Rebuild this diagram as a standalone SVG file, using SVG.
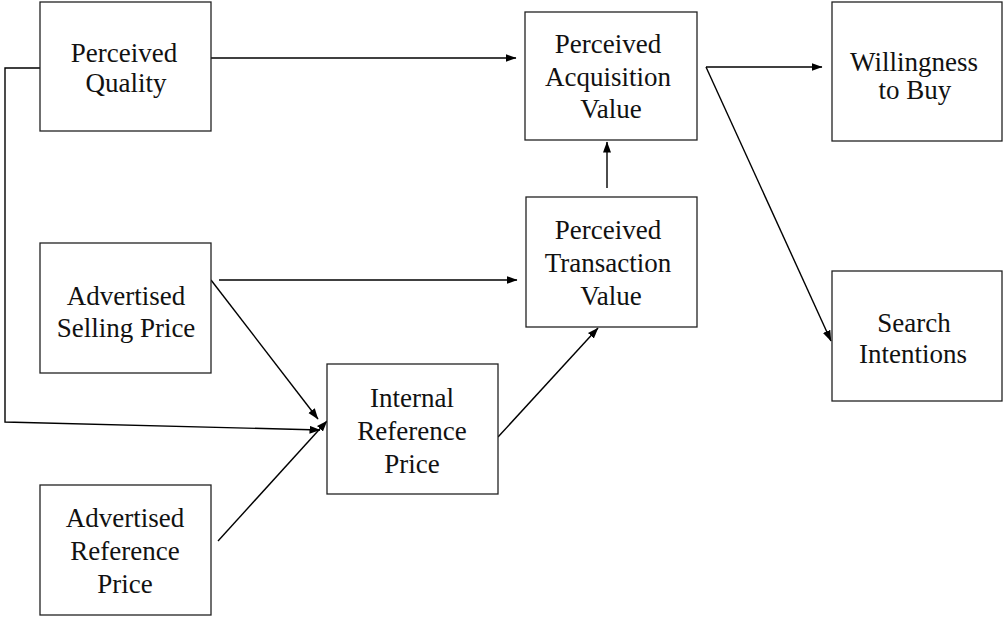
<svg xmlns="http://www.w3.org/2000/svg" width="1003" height="619" viewBox="0 0 1003 619">
<style>
.box{fill:#fff;stroke:#222;stroke-width:1.3}
.t{font-family:"Liberation Serif","Times New Roman",serif;font-size:27px;fill:#111;text-anchor:middle}
.c{fill:none;stroke:#000;stroke-width:1.4}
</style>
<defs>
<marker id="ah" markerUnits="userSpaceOnUse" markerWidth="12" markerHeight="9" refX="10.5" refY="4" orient="auto">
<path d="M0,0 L11,4 L0,8 z" fill="#000"/>
</marker>
</defs>
<rect width="1003" height="619" fill="#fff"/>
<g id="connectors">
<polyline class="c" points="40,68 5,68 5,422 320,430" marker-end="url(#ah)"/>
<line class="c" x1="211" y1="58" x2="516" y2="58" marker-end="url(#ah)"/>
<line class="c" x1="219" y1="280" x2="517" y2="280" marker-end="url(#ah)"/>
<line class="c" x1="211" y1="280" x2="318" y2="419" marker-end="url(#ah)"/>
<line class="c" x1="218" y1="541" x2="327" y2="421" marker-end="url(#ah)"/>
<line class="c" x1="498" y1="437" x2="598" y2="328" marker-end="url(#ah)"/>
<line class="c" x1="607" y1="188" x2="607" y2="142" marker-end="url(#ah)"/>
<line class="c" x1="706" y1="67" x2="822" y2="67" marker-end="url(#ah)"/>
<line class="c" x1="706" y1="67" x2="831" y2="341" marker-end="url(#ah)"/>
</g>
<g id="perceived-quality">
<rect class="box" x="40" y="2" width="171" height="129"/>
<text class="t" x="124" y="62">Perceived</text>
<text class="t" x="126" y="92">Quality</text>
</g>
<g id="advertised-selling-price">
<rect class="box" x="40" y="243" width="171" height="130"/>
<text class="t" x="126" y="305">Advertised</text>
<text class="t" x="126" y="337">Selling Price</text>
</g>
<g id="advertised-reference-price">
<rect class="box" x="40" y="485" width="171" height="130"/>
<text class="t" x="125" y="527">Advertised</text>
<text class="t" x="125" y="560">Reference</text>
<text class="t" x="125" y="593">Price</text>
</g>
<g id="internal-reference-price">
<rect class="box" x="327" y="364" width="171" height="130"/>
<text class="t" x="412" y="407">Internal</text>
<text class="t" x="412" y="440">Reference</text>
<text class="t" x="412" y="473">Price</text>
</g>
<g id="perceived-transaction-value">
<rect class="box" x="526" y="197" width="171" height="130"/>
<text class="t" x="608" y="239">Perceived</text>
<text class="t" x="608" y="272">Transaction</text>
<text class="t" x="611" y="305">Value</text>
</g>
<g id="perceived-acquisition-value">
<rect class="box" x="525" y="12" width="172" height="128"/>
<text class="t" x="608" y="53">Perceived</text>
<text class="t" x="608" y="86">Acquisition</text>
<text class="t" x="611" y="118">Value</text>
</g>
<g id="willingness-to-buy">
<rect class="box" x="832" y="2" width="170" height="139"/>
<text class="t" x="914" y="71">Willingness</text>
<text class="t" x="915" y="99">to Buy</text>
</g>
<g id="search-intentions">
<rect class="box" x="832" y="271" width="170" height="130"/>
<text class="t" x="914" y="332">Search</text>
<text class="t" x="913" y="363">Intentions</text>
</g>
</svg>
